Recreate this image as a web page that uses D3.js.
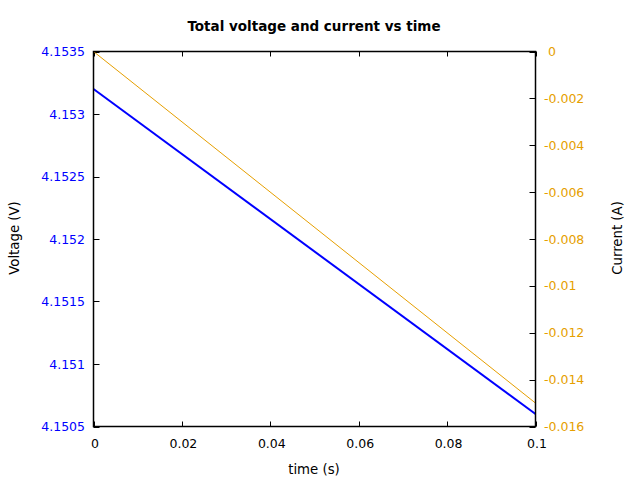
<!DOCTYPE html>
<html>
<head>
<meta charset="utf-8">
<script src="https://cdn.jsdelivr.net/npm/d3@7"></script>
<style>
  body { margin: 0; background: #fff; }
  svg { display: block; font-family: "DejaVu Sans", sans-serif; }
</style>
</head>
<body>
<div id="chart"></div>
<script>
// values
const time = [0, 0.1];
const voltage = [4.1532, 4.1506];
const current = [0, -0.015];

const xTicks = [0, 0.02, 0.04, 0.06, 0.08, 0.1];
const vTicks = [4.1505, 4.151, 4.1515, 4.152, 4.1525, 4.153, 4.1535];
const iTicks = [0, -0.002, -0.004, -0.006, -0.008, -0.01, -0.012, -0.014, -0.016];

const width = 640, height = 480;
const mLeft = 93.5, mRight = 535.5, mTop = 51.5, mBottom = 426.5;
const blue = "#0000ff", orange = "#e69f00";

const x = d3.scaleLinear().domain([0, 0.1]).range([mLeft, mRight]);
const yV = d3.scaleLinear().domain([4.1505, 4.1535]).range([mBottom, mTop]);
const yI = d3.scaleLinear().domain([-0.016, 0]).range([mBottom, mTop]);

const svg = d3.select("#chart").append("svg")
    .attr("width", width)
    .attr("height", height)
    .attr("font-size", 12.5);

// ticks (gnuplot style: inward)
const tk = svg.append("g").attr("stroke", "#000").attr("stroke-width", 1);
xTicks.forEach(t => {
  const px = Math.round(x(t)) + 0.5;
  tk.append("line").attr("x1", px).attr("x2", px).attr("y1", mBottom).attr("y2", mBottom - 5);
  tk.append("line").attr("x1", px).attr("x2", px).attr("y1", mTop).attr("y2", mTop + 5);
});
vTicks.forEach(t => {
  const py = Math.round(yV(t)) + 0.5;
  tk.append("line").attr("x1", mLeft).attr("x2", mLeft + 6).attr("y1", py).attr("y2", py);
});
iTicks.forEach(t => {
  const py = Math.round(yI(t)) + 0.5;
  tk.append("line").attr("x1", mRight).attr("x2", mRight - 6).attr("y1", py).attr("y2", py);
});

// lines
svg.append("path")
    .datum(time.map((t, i) => [t, current[i]]))
    .attr("fill", "none")
    .attr("stroke", orange)
    .attr("stroke-width", 1)
    .attr("d", d3.line().x(d => x(d[0])).y(d => yI(d[1])));

svg.append("path")
    .datum(time.map((t, i) => [t, voltage[i]]))
    .attr("fill", "none")
    .attr("stroke", blue)
    .attr("stroke-width", 2)
    .attr("d", d3.line().x(d => x(d[0])).y(d => yV(d[1])));

// frame
svg.append("rect")
    .attr("x", mLeft).attr("y", mTop)
    .attr("width", mRight - mLeft).attr("height", mBottom - mTop)
    .attr("fill", "none").attr("stroke", "#000").attr("stroke-width", 1.5);

// tick labels
svg.append("g").selectAll("text").data(xTicks).join("text")
    .attr("x", d => x(d) + 1.5)
    .attr("y", mBottom + 21)
    .attr("text-anchor", "middle")
    .text(d => d3.format("~g")(d));

svg.append("g").selectAll("text").data(vTicks).join("text")
    .attr("x", mLeft - 8.5)
    .attr("y", d => yV(d) + 4.5)
    .attr("text-anchor", "end")
    .attr("fill", blue)
    .text(d => d3.format("~g")(d));

svg.append("g").selectAll("text").data(iTicks).join("text")
    .attr("x", d => d === 0 ? mRight + 12.5 : mRight + 8.5)
    .attr("y", d => yI(d) + 4.5)
    .attr("fill", orange)
    .text(d => d === 0 ? "0" : "-" + d3.format("~g")(-d));

// titles
svg.append("text")
    .attr("x", 314).attr("y", 31)
    .attr("text-anchor", "middle")
    .attr("font-weight", "bold")
    .attr("font-size", 13.5)
    .text("Total voltage and current vs time");

svg.append("text")
    .attr("x", 314).attr("y", 474)
    .attr("text-anchor", "middle")
    .attr("font-size", 13.3)
    .text("time (s)");

svg.append("text")
    .attr("transform", "translate(18.5,238) rotate(-90)")
    .attr("text-anchor", "middle")
    .attr("font-size", 13.3)
    .text("Voltage (V)");

svg.append("text")
    .attr("transform", "translate(621.5,238) rotate(-90)")
    .attr("text-anchor", "middle")
    .attr("font-size", 13.3)
    .text("Current (A)");
</script>
</body>
</html>
